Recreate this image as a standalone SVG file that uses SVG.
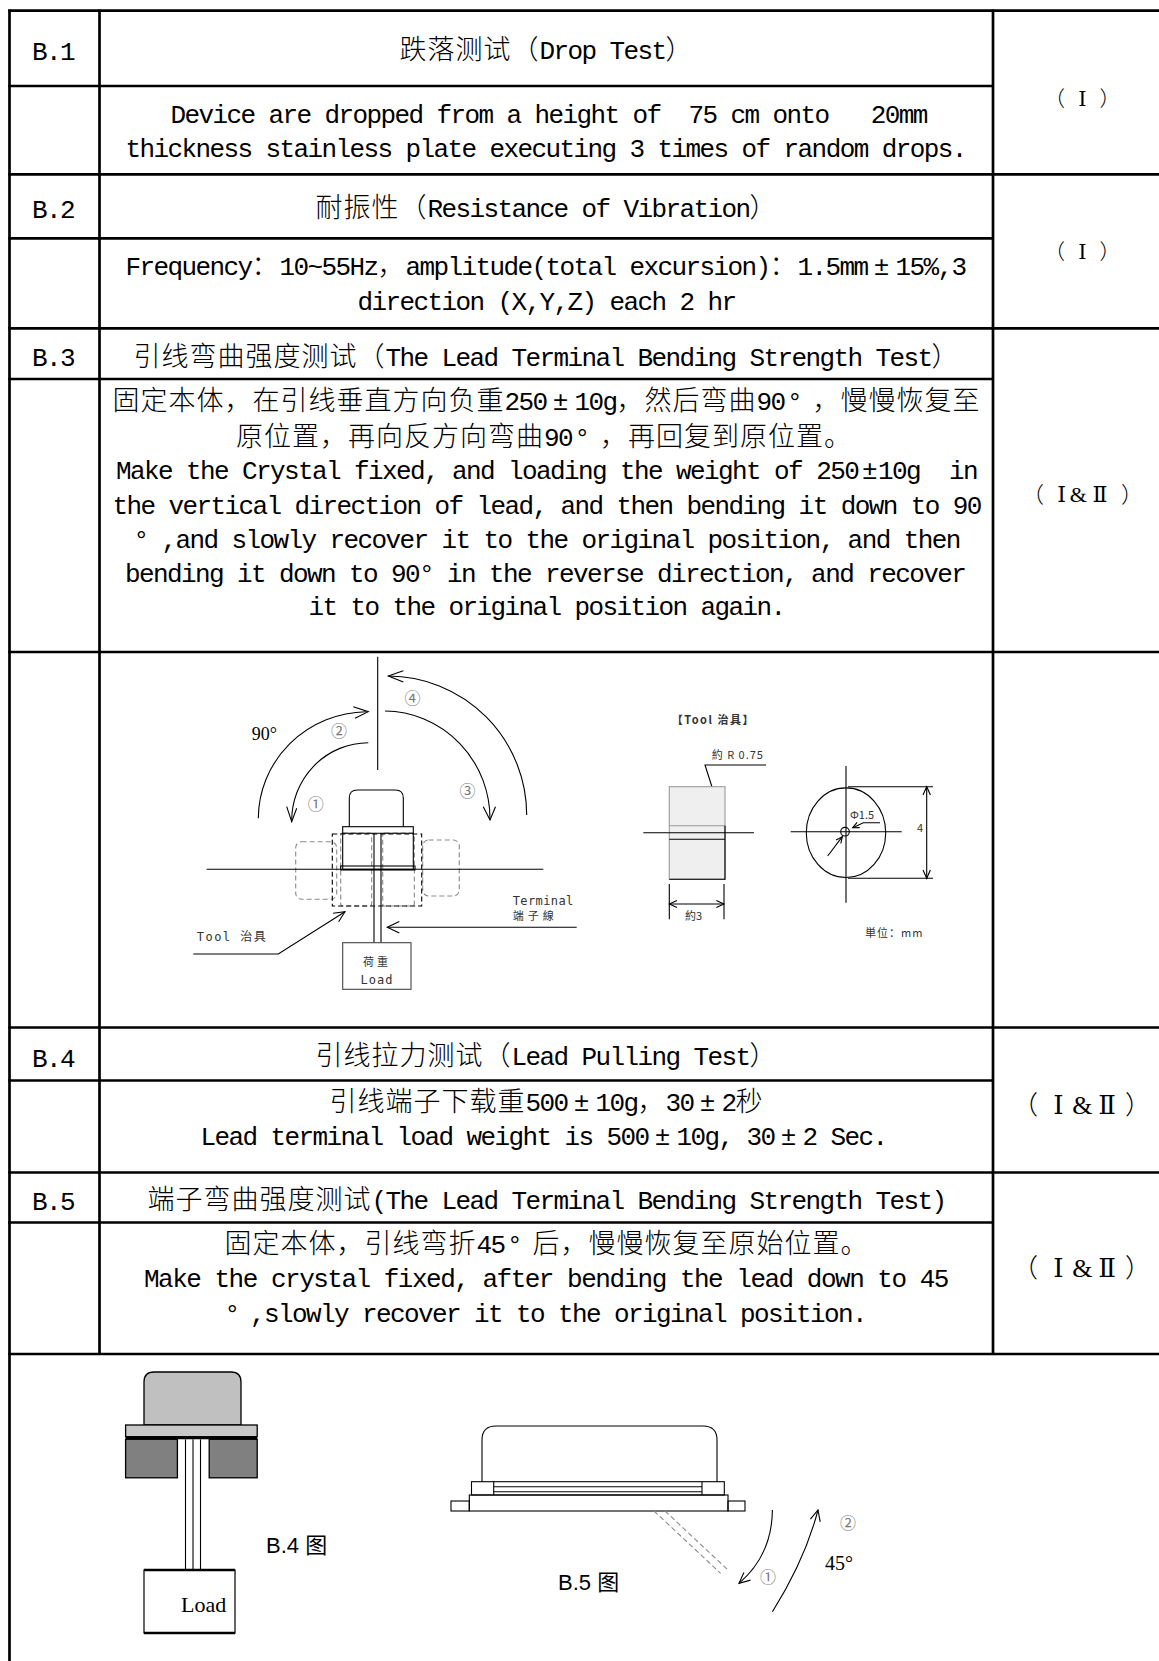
<svg xmlns="http://www.w3.org/2000/svg" width="1159" height="1661" viewBox="0 0 1159 1661">
<style>
.bg{fill:#fff}
.tl{stroke:#000;stroke-width:2.7;fill:none}
.t{font-family:"Liberation Mono","DejaVu Sans Mono",monospace;font-size:26px;letter-spacing:-1.6px;fill:#000}
.k{font-family:"Noto Sans CJK SC",sans-serif;font-size:27px;font-weight:300;letter-spacing:1px}
.r{font-family:"DejaVu Serif","Noto Sans CJK SC",serif;fill:#000;text-anchor:middle}
.p{font-family:"Noto Sans CJK SC",sans-serif;font-weight:300;fill:#000}
.f{stroke:#000;stroke-width:1.1;fill:none}
.g{stroke:#8a8a8a;stroke-width:1.1;fill:none;stroke-dasharray:5 3}
.bd{stroke:#000;stroke-width:1.1;fill:none;stroke-dasharray:5 3}
.num{font-family:"Noto Sans CJK SC",sans-serif;font-size:16px;fill:#777;text-anchor:middle}
.s{font-family:"DejaVu Sans Mono","Noto Sans CJK SC",monospace;font-size:12px;fill:#333}
.sc{font-family:"Noto Sans CJK SC",sans-serif;font-size:11px;fill:#333}
.tm{font-family:"Liberation Serif",serif;fill:#000}
.cap{font-family:"Liberation Sans","Noto Sans CJK SC",sans-serif;font-size:22px;fill:#000}
</style>
<rect class="bg" x="0" y="0" width="1159" height="1661"/>

<g id="table">
<line class="tl" x1="8.2" y1="10.7" x2="1159" y2="10.7"/>
<line class="tl" x1="8.2" y1="86" x2="993" y2="86"/>
<line class="tl" x1="8.2" y1="174.3" x2="1159" y2="174.3"/>
<line class="tl" x1="8.2" y1="238.3" x2="993" y2="238.3"/>
<line class="tl" x1="8.2" y1="328.3" x2="1159" y2="328.3"/>
<line class="tl" x1="8.2" y1="379" x2="993" y2="379"/>
<line class="tl" x1="8.2" y1="652" x2="1159" y2="652"/>
<line class="tl" x1="8.2" y1="1027.5" x2="1159" y2="1027.5"/>
<line class="tl" x1="8.2" y1="1080.5" x2="993" y2="1080.5"/>
<line class="tl" x1="8.2" y1="1172.5" x2="1159" y2="1172.5"/>
<line class="tl" x1="8.2" y1="1222.5" x2="993" y2="1222.5"/>
<line class="tl" x1="8.2" y1="1354" x2="1159" y2="1354"/>
<line class="tl" x1="9.5" y1="9.4" x2="9.5" y2="1661"/>
<line class="tl" x1="99.5" y1="9.4" x2="99.5" y2="1355"/>
<line class="tl" x1="993" y1="9.4" x2="993" y2="1355"/>
</g>

<g id="row-b1">
<text class="t" x="32" y="60">B.1</text>
<text class="t" y="58.5"><tspan class="k" x="399.5">跌落测试（</tspan><tspan x="539.5">Drop Test</tspan><tspan class="k" x="665.5">）</tspan></text>
<text class="t" x="170.5" y="123.3" xml:space="preserve">Device are dropped from a height of  75 cm onto   20mm</text>
<text class="t" x="125.5" y="157.3">thickness stainless plate executing 3 times of random drops.</text>
<text class="p" x="1044" y="105.5" font-size="21">（</text>
<text class="r" x="1082.5" y="105.5" font-size="21">Ⅰ</text>
<text class="p" x="1099.5" y="105.5" font-size="21">）</text>
</g>

<g id="row-b2">
<text class="t" x="32" y="218">B.2</text>
<text class="t" y="217"><tspan class="k" x="315.5">耐振性（</tspan><tspan x="427.5">Resistance of Vibration</tspan><tspan class="k" x="749.5">）</tspan></text>
<text class="t" y="275"><tspan x="125.5">Frequency</tspan><tspan class="k" x="251.5">：</tspan><tspan x="279.5">10~55Hz</tspan><tspan class="k" x="377.5">，</tspan><tspan x="405.5">amplitude(total excursion)</tspan><tspan class="k" x="769.5">：</tspan><tspan x="797.5">1.5mm</tspan><tspan x="873.7">±</tspan><tspan x="895.5">15%,3</tspan></text>
<text class="t" x="357.5" y="310">direction (X,Y,Z) each 2 hr</text>
<text class="p" x="1044" y="258.5" font-size="21">（</text>
<text class="r" x="1082.5" y="258.5" font-size="21">Ⅰ</text>
<text class="p" x="1099.5" y="258.5" font-size="21">）</text>
</g>

<g id="row-b3">
<text class="t" x="32" y="365.5">B.3</text>
<text class="t" y="365.5"><tspan class="k" x="133.5">引线弯曲强度测试（</tspan><tspan x="385.5">The Lead Terminal Bending Strength Test</tspan><tspan class="k" x="931.5">）</tspan></text>
<text class="t" y="410"><tspan class="k" x="112.5">固定本体，在引线垂直方向负重</tspan><tspan x="504.5">250</tspan><tspan x="552.7">±</tspan><tspan x="574.5">10g</tspan><tspan class="k" x="616.5">，然后弯曲</tspan><tspan x="756.5">90</tspan><tspan x="787">°</tspan><tspan class="k" x="812.5">，慢慢恢复至</tspan></text>
<text class="t" y="446"><tspan class="k" x="236">原位置，再向反方向弯曲</tspan><tspan x="544">90</tspan><tspan x="574.5">°</tspan><tspan class="k" x="600">，再回复到原位置。</tspan></text>
<text class="t" y="479"><tspan x="116">Make the Crystal fixed, and loading the weight of 250</tspan><tspan x="862">±</tspan><tspan x="878">10g </tspan><tspan x="949">in</tspan></text>
<text class="t" x="112.5" y="514">the vertical direction of lead, and then bending it down to 90</text>
<text class="t" y="548.3"><tspan x="133.5">°</tspan><tspan x="161.5">,and slowly recover it to the original position, and then</tspan></text>
<text class="t" x="125" y="581.7">bending it down to 90° in the reverse direction, and recover</text>
<text class="t" x="308.5" y="615">it to the original position again.</text>
<text class="p" x="1022" y="502" font-size="22">（</text>
<text class="r" x="1061.7" y="502" font-size="22">Ⅰ</text>
<text class="tm" x="1078.4" y="502" font-size="22" text-anchor="middle">&amp;</text>
<text class="r" x="1100" y="502" font-size="22">Ⅱ</text>
<text class="p" x="1121" y="502" font-size="22">）</text>
</g>

<g id="fig-b3">
<line class="f" x1="377.7" y1="656.7" x2="377.7" y2="770"/>
<path class="f" d="M258.3,818.3 A110,107 0 0 1 366,711.7"/>
<path class="f" d="M353.3,706.7 L368.3,711.7 L355,718.3"/>
<path class="f" d="M368.3,742.7 A77,78 0 0 0 291.7,821.7"/>
<path class="f" d="M286.7,806.7 L291.7,821.7 L296.7,808.3"/>
<path class="f" d="M385,711 A106,108 0 0 1 490,820"/>
<path class="f" d="M483.3,806.7 L490,820 L495.5,806.7"/>
<path class="f" d="M526.7,815 A139,139 0 0 0 388.3,676"/>
<path class="f" d="M403.3,670.7 L388.3,676 L403.3,682"/>
<text class="tm" x="251.7" y="740" font-size="18">90°</text>
<text class="num" x="339" y="736.5">②</text>
<text class="num" x="412.5" y="703.8">④</text>
<text class="num" x="315.8" y="809.5">①</text>
<text class="num" x="467.5" y="797.2">③</text>
<rect class="g" x="295.7" y="841.7" width="41" height="57.6" rx="6"/>
<rect class="g" x="422.7" y="840" width="36.6" height="56" rx="6"/>
<rect class="g" x="340.7" y="833" width="31" height="73" rx="2"/>
<rect class="g" x="382.7" y="833" width="31.6" height="73" rx="2"/>
<rect class="bd" x="332.3" y="834" width="89.4" height="72"/>
<path class="f" d="M349.3,826.7 V798 Q349.3,790 357.3,790 H395.3 Q403.3,790 403.3,798 V826.7"/>
<rect class="f" x="342.7" y="826.7" width="70.6" height="42.6"/>
<line class="f" x1="342.7" y1="833.3" x2="413.3" y2="833.3"/>
<rect class="f" x="340.7" y="866" width="74.3" height="4"/>
<line class="f" x1="206.7" y1="869.3" x2="543.3" y2="869.3"/>
<line class="f" x1="374" y1="833.3" x2="374" y2="942.7"/>
<line class="f" x1="381" y1="833.3" x2="381" y2="942.7"/>
<rect x="342.7" y="942.7" width="68.3" height="46.6" fill="#fff" stroke="#444" stroke-width="1.1"/>
<text class="sc" x="377" y="966" font-size="12" text-anchor="middle" letter-spacing="3">荷重</text>
<text class="s" x="377" y="984" text-anchor="middle" letter-spacing="1">Load</text>
<text class="s" x="512.7" y="905" letter-spacing="0.4">Terminal</text>
<text class="sc" x="512.7" y="920" font-size="12" letter-spacing="4">端子線</text>
<line class="f" x1="576.7" y1="927.3" x2="387.3" y2="927.3"/>
<path class="f" d="M399.3,921.5 L387.3,927.3 L399.3,933"/>
<text class="s" x="196.7" y="941" letter-spacing="1.5">Tool 治具</text>
<polyline class="f" points="193.3,954 278.3,954 345,911.7"/>
<path class="f" d="M333.1,913.2 L345,911.7 L338.6,921.8"/>
</g>

<g id="fig-b3-tool">
<text class="sc" x="671.7" y="724" font-size="10" font-weight="bold" letter-spacing="1.5">【Tool 治具】</text>
<text class="sc" x="711.7" y="759" letter-spacing="1">約 R 0.75</text>
<path class="f" d="M766,765 H705 L722.5,820"/>
<path d="M724,825 L724.3,817 L719.1,818.7 Z" fill="#000"/>
<rect x="669.3" y="786.7" width="55.7" height="92.6" fill="#efefef" stroke="#9a9a9a" stroke-width="1.1"/>
<line x1="669.3" y1="825.7" x2="725" y2="825.7" stroke="#9a9a9a" stroke-width="1.1"/>
<line class="f" x1="669.3" y1="839.3" x2="725" y2="839.3"/>
<line class="f" x1="643.3" y1="832.7" x2="754" y2="832.7"/>
<path class="f" d="M725,825.7 V879.3 H669.3"/>
<line class="f" x1="669.3" y1="884" x2="669.3" y2="919.3"/>
<line class="f" x1="724" y1="884" x2="724" y2="919.3"/>
<line class="f" x1="669.3" y1="904" x2="724" y2="904"/>
<path class="f" d="M677,900.5 L669.3,904 L677,907.5"/>
<path class="f" d="M716.3,900.5 L724,904 L716.3,907.5"/>
<text class="sc" x="685" y="920">約3</text>
<ellipse class="f" cx="846" cy="832.7" rx="39.7" ry="44.8"/>
<line class="f" x1="846" y1="766" x2="846" y2="902.7"/>
<line class="f" x1="790.7" y1="831.7" x2="901.7" y2="831.7"/>
<circle class="f" cx="845" cy="831.7" r="4.3"/>
<path class="f" d="M880,822.7 H863.3 L852.7,827.7"/>
<path class="f" d="M859.7,827.6 L852.7,827.7 L857.1,822.3"/>
<text class="sc" x="850" y="819">Φ1.5</text>
<line class="f" x1="827.7" y1="856" x2="842.3" y2="836.7"/>
<path class="f" d="M836.1,840 L842.3,836.7 L840.8,843.5"/>
<line class="f" x1="848" y1="786.7" x2="933" y2="786.7"/>
<line class="f" x1="848" y1="878.3" x2="933" y2="878.3"/>
<line class="f" x1="926.7" y1="786.7" x2="926.7" y2="878.3"/>
<path class="f" d="M923,795 L926.7,786.7 L930.4,795"/>
<path class="f" d="M923,870 L926.7,878.3 L930.4,870"/>
<text class="sc" x="917" y="832" font-size="12">4</text>
<text class="sc" x="865" y="937" font-size="10" letter-spacing="1">単位：mm</text>
</g>

<g id="row-b4">
<text class="t" x="32" y="1066.5">B.4</text>
<text class="t" y="1065"><tspan class="k" x="315.5">引线拉力测试（</tspan><tspan x="511.5">Lead Pulling Test</tspan><tspan class="k" x="749.5">）</tspan></text>
<text class="t" y="1110.5"><tspan class="k" x="329.5">引线端子下载重</tspan><tspan x="525.5">500</tspan><tspan x="573.7">±</tspan><tspan x="595.5">10g</tspan><tspan class="k" x="637.5">，</tspan><tspan x="665.5">30</tspan><tspan x="699.7">±</tspan><tspan x="721.5">2</tspan><tspan class="k" x="735.5">秒</tspan></text>
<text class="t" y="1145"><tspan x="200.5">Lead terminal load weight is 500</tspan><tspan x="654.7">±</tspan><tspan x="676.5">10g, 30</tspan><tspan x="780.7">±</tspan><tspan x="802.5">2 Sec.</tspan></text>
<text class="p" x="1012" y="1113.5" font-size="26">（</text>
<text class="r" x="1058.5" y="1113.5" font-size="26">Ⅰ</text>
<text class="tm" x="1082.4" y="1113.5" font-size="26" text-anchor="middle">&amp;</text>
<text class="r" x="1107.2" y="1113.5" font-size="26">Ⅱ</text>
<text class="p" x="1125" y="1113.5" font-size="26">）</text>
</g>

<g id="row-b5">
<text class="t" x="32" y="1210">B.5</text>
<text class="t" y="1208.5"><tspan class="k" x="147.5">端子弯曲强度测试</tspan><tspan x="371.5">(The Lead Terminal Bending Strength Test)</tspan></text>
<text class="t" y="1253"><tspan class="k" x="224.5">固定本体，引线弯折</tspan><tspan x="476.5">45</tspan><tspan x="507">°</tspan><tspan class="k" x="532.5">后，慢慢恢复至原始位置。</tspan></text>
<text class="t" x="144" y="1287.3" style="letter-spacing:-1.5px">Make the crystal fixed, after bending the lead down to 45</text>
<text class="t" y="1321.7"><tspan x="224.5">°</tspan><tspan x="250">,slowly recover it to the original position.</tspan></text>
<text class="p" x="1012" y="1276.5" font-size="26">（</text>
<text class="r" x="1058.5" y="1276.5" font-size="26">Ⅰ</text>
<text class="tm" x="1082.4" y="1276.5" font-size="26" text-anchor="middle">&amp;</text>
<text class="r" x="1107.2" y="1276.5" font-size="26">Ⅱ</text>
<text class="p" x="1125" y="1276.5" font-size="26">）</text>
</g>

<g id="fig-b4">
<path d="M144,1425 V1382 Q144,1372 154,1372 H231 Q241,1372 241,1382 V1425 Z" fill="#c0c0c0" stroke="#000" stroke-width="1.3"/>
<rect x="125.6" y="1425" width="131.6" height="11.7" fill="#c8c8c8" stroke="#000" stroke-width="1.3"/>
<line x1="125.6" y1="1438" x2="257.2" y2="1438" stroke="#000" stroke-width="2.6"/>
<rect x="125.6" y="1439.3" width="51.8" height="38.5" fill="#808080" stroke="#000" stroke-width="1.3"/>
<rect x="209.2" y="1439.3" width="48" height="38.5" fill="#808080" stroke="#000" stroke-width="1.3"/>
<line class="f" x1="185.5" y1="1439.3" x2="185.5" y2="1570"/>
<line class="f" x1="193" y1="1439.3" x2="193" y2="1570"/>
<line class="f" x1="200.5" y1="1439.3" x2="200.5" y2="1570"/>
<rect x="144" y="1570" width="91" height="63" fill="#fff" stroke="#000" stroke-width="1.2"/>
<line x1="144" y1="1570" x2="235" y2="1570" stroke="#000" stroke-width="2.4"/>
<line x1="144" y1="1633" x2="235" y2="1633" stroke="#000" stroke-width="2.4"/>
<text class="tm" x="181" y="1611.7" font-size="22">Load</text>
<text class="cap" x="266" y="1553">B.4 图</text>
</g>

<g id="fig-b5">
<path class="f" d="M482,1481.7 V1440 Q482,1426 496,1426 H703 Q717,1426 717,1440 V1481.7"/>
<rect class="f" x="471.5" y="1481.7" width="252.8" height="13.3"/>
<line class="f" x1="493.7" y1="1481.7" x2="493.7" y2="1495"/>
<line class="f" x1="702" y1="1481.7" x2="702" y2="1495"/>
<line class="f" x1="493.7" y1="1486.7" x2="702" y2="1486.7"/>
<line class="f" x1="493.7" y1="1491.7" x2="702" y2="1491.7"/>
<rect class="f" x="469.3" y="1495" width="258.7" height="16"/>
<rect class="f" x="451" y="1501" width="18.3" height="10"/>
<rect class="f" x="728" y="1501" width="17" height="10"/>
<line class="g" x1="654" y1="1511" x2="720.6" y2="1573.3" stroke-dasharray="4 2.5"/>
<line class="g" x1="665" y1="1511" x2="728" y2="1570" stroke-dasharray="4 2.5"/>
<path class="f" d="M772.4,1510 Q772,1555 739,1583.3"/>
<path class="f" d="M750.5,1580.1 L739,1583.3 L743.9,1572.4"/>
<path class="f" d="M772.4,1611.7 Q805,1560 818,1510"/>
<path class="f" d="M810.4,1519.2 L818,1510 L820.2,1521.8"/>
<text class="num" x="768" y="1582.5">①</text>
<text class="num" x="848" y="1528.5">②</text>
<text class="tm" x="825" y="1570" font-size="20">45°</text>
<text class="cap" x="558" y="1590">B.5 图</text>
</g>
</svg>
